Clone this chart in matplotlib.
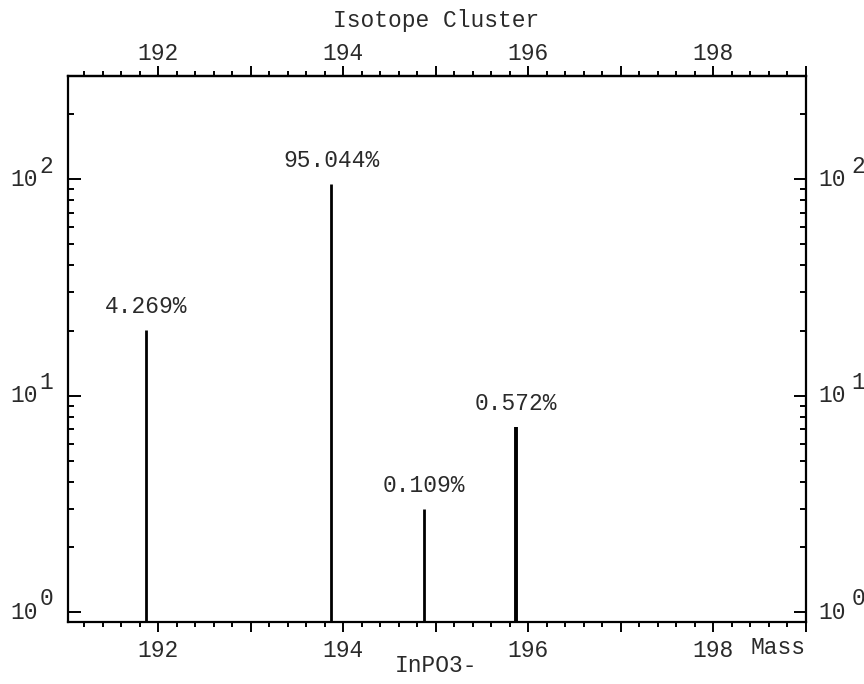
import matplotlib
matplotlib.use('Agg')
import numpy as np
from matplotlib import pyplot as plt
from matplotlib.ticker import MultipleLocator, LogLocator, NullFormatter, FuncFormatter

# isotope peaks of InPO3-
masses = [191.87, 193.87, 194.87, 195.87]
heights = [20.1, 94.8, 3.0, 7.2]
labels = ['4.269%', '95.044%', '0.109%', '0.572%']
widths = [2.0, 2.0, 2.0, 2.8]

font = 'Liberation Mono'
fs = 16.5
tc = '#2a2a2a'

fig = plt.figure(figsize=(8.64, 6.84), dpi=100)
W, H = 864, 684
ax = fig.add_axes([68 / W, 1 - 622 / H, (806 - 68) / W, (622 - 76) / H])

ax.vlines(masses, 0.9, heights, colors='k', linewidth=widths)
for m, h, t in zip(masses, heights, labels):
    ax.annotate(t, (m, h), xytext=(0, 12.2), textcoords='offset points',
                ha='center', va='baseline', family=font, fontsize=fs, color=tc)

ax.set_yscale('log')
ax.set_xlim(191.025, 199.0)
ax.set_ylim(0.9, 300)

for s in ax.spines.values():
    s.set_linewidth(1.6)

even_fmt = FuncFormatter(lambda v, p: '%d' % round(v) if round(v) % 2 == 0 else '')

ax.xaxis.set_major_locator(MultipleLocator(1))
ax.xaxis.set_minor_locator(MultipleLocator(0.2))
ax.xaxis.set_major_formatter(even_fmt)
ax.tick_params(axis='x', which='both', direction='out', top=False, bottom=True, width=1.4)
ax.tick_params(axis='x', which='major', length=7, pad=5)
ax.tick_params(axis='x', which='minor', length=3.5)
for lab in ax.get_xticklabels():
    lab.set_family(font)
    lab.set_fontsize(fs)
    lab.set_color(tc)

top = ax.secondary_xaxis('top')
top.xaxis.set_major_locator(MultipleLocator(1))
top.xaxis.set_minor_locator(MultipleLocator(0.2))
top.xaxis.set_major_formatter(even_fmt)
top.spines['top'].set_linewidth(1.6)
top.tick_params(axis='x', which='both', direction='out', width=1.4)
top.tick_params(axis='x', which='major', length=7, pad=1)
top.tick_params(axis='x', which='minor', length=3.5)
for lab in top.get_xticklabels():
    lab.set_family(font)
    lab.set_fontsize(fs)
    lab.set_color(tc)

ax.yaxis.set_major_locator(LogLocator(base=10, numticks=10))
ax.yaxis.set_minor_locator(LogLocator(base=10, subs=np.arange(2, 10), numticks=10))
ax.yaxis.set_major_formatter(NullFormatter())
ax.yaxis.set_minor_formatter(NullFormatter())
ax.tick_params(axis='y', which='both', direction='in', left=True, right=True, width=1.4)
ax.tick_params(axis='y', which='major', length=9)
ax.tick_params(axis='y', which='minor', length=4)

# y tick labels drawn as "10" plus raised exponent
for k in [0, 1, 2]:
    yv = 10.0 ** k
    ax.annotate('10', (0, yv), xycoords=('axes fraction', 'data'), xytext=(-21.5, 0),
                textcoords='offset points', ha='right', va='center', family=font,
                fontsize=fs, color=tc)
    ax.annotate(str(k), (0, yv), xycoords=('axes fraction', 'data'), xytext=(-10.5, 9.5),
                textcoords='offset points', ha='right', va='center', family=font,
                fontsize=fs, color=tc)
    ax.annotate('10', (1, yv), xycoords=('axes fraction', 'data'), xytext=(9, 0),
                textcoords='offset points', ha='left', va='center', family=font,
                fontsize=fs, color=tc)
    ax.annotate(str(k), (1, yv), xycoords=('axes fraction', 'data'), xytext=(33, 9.5),
                textcoords='offset points', ha='left', va='center', family=font,
                fontsize=fs, color=tc)

ax.text(1.0, -0.025, 'Mass', transform=ax.transAxes, ha='right', va='top',
        family=font, fontsize=fs, color=tc)
fig.text(436 / W, 1 - 21 / H, 'Isotope Cluster', ha='center', va='center',
         family=font, fontsize=fs, color=tc)
fig.text(436 / W, 1 - 665 / H, 'InPO3-', ha='center', va='center',
         family=font, fontsize=fs, color=tc)

fig.savefig('out.png', dpi=100)
